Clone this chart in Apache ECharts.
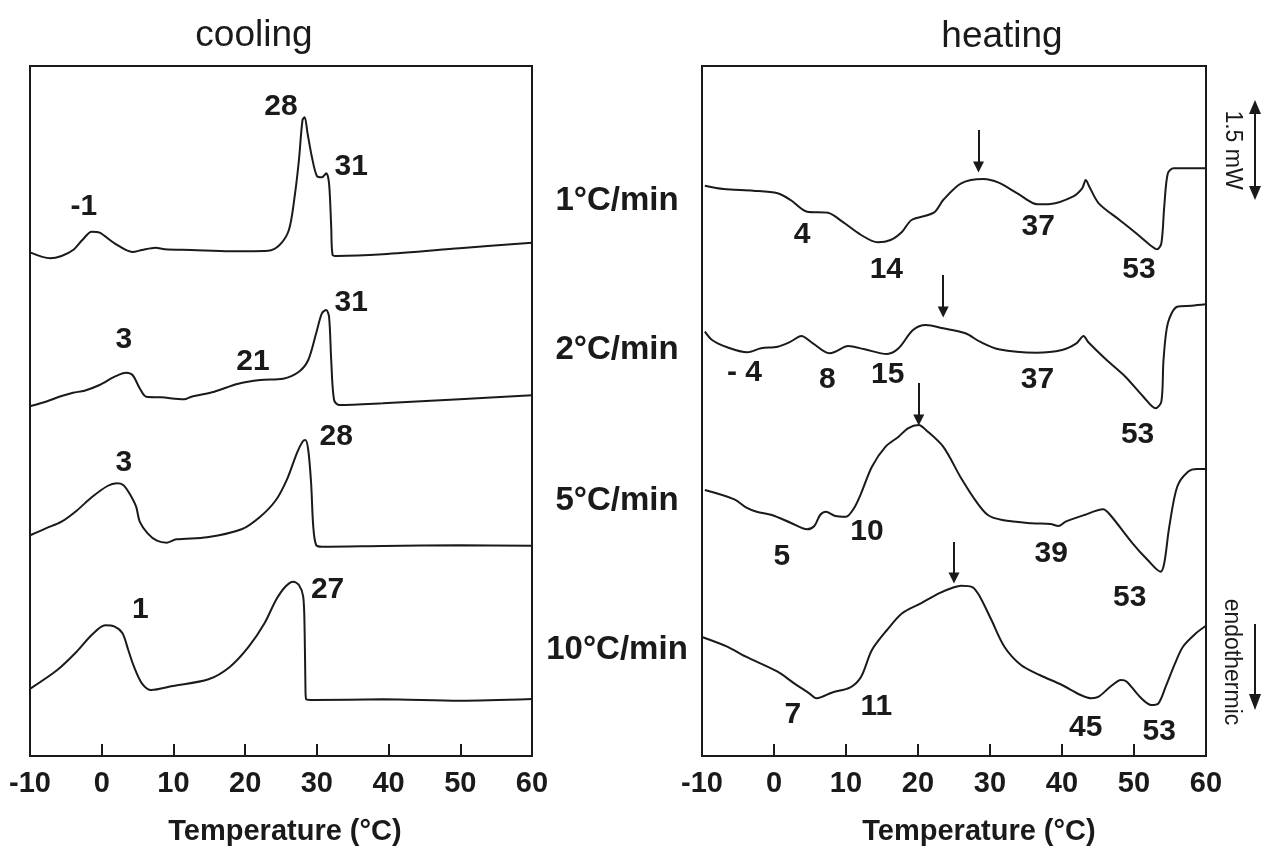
<!DOCTYPE html>
<html>
<head>
<meta charset="utf-8">
<title>DSC cooling / heating</title>
<script src="https://cdn.jsdelivr.net/npm/echarts@6/dist/echarts.min.js"></script>
<style>
    html, body { margin: 0; padding: 0; background: #fff; }
    #chart-main { width: 1262px; height: 848px; }
</style>
</head>
<body>
<div id="chart-main"></div>
<script>
    // heat flow traces, [temperature degC, offset signal]
    var cool1 = [[-9.9,503.3],[-7.2,497.7],[-5.6,500],[-4.0,506],[-2.7,516],[-1.4,524.3],[-0.3,523.3],[1.8,512.7],[4.3,504],[5.6,506],[7.5,508.3],[8.8,506.7],[12.5,506],[17.9,504.7],[23.2,505.3],[24.8,511],[26.1,526],[26.9,559.3],[27.5,596],[28.0,636],[28.3,638.7],[28.7,622.7],[29.3,599.3],[30.0,580],[30.7,578.7],[31.3,582.7],[31.7,572.7],[32.0,529.3],[32.2,501],[32.8,500],[39.2,501.7],[49.9,507.7],[60,513.3]];
    var cool2 = [[-9.9,350],[-7.8,354.3],[-5.6,360],[-4.0,363.3],[-2.4,365.3],[-0.3,371],[1.8,379.3],[3.4,383.3],[4.3,381],[5.3,367.7],[6.2,359.3],[8.3,358.7],[11.5,356.7],[12.5,359.3],[15.7,364.3],[18.9,372],[22.1,376],[25.3,377.3],[27.5,384.3],[28.8,396],[29.9,422.7],[30.7,442.7],[31.3,446],[31.7,439.3],[32.0,396],[32.4,356],[33.1,351],[39.2,352.7],[49.9,356.7],[60,360.7]];
    var cool5 = [[-9.9,221],[-7.8,227.7],[-5.6,234.3],[-3.5,245.3],[-1.4,258.7],[0.8,270],[2.1,272.7],[3.0,271],[4.0,261],[4.8,249.3],[5.3,234.3],[6.4,222.7],[7.7,215.3],[9.1,213.3],[10.4,216.7],[14.7,218.7],[19.5,226.7],[22.1,239.3],[24.3,256],[25.9,277.7],[27.2,302.7],[28.0,314.3],[28.4,316],[28.8,306],[29.2,272.7],[29.5,229.3],[29.9,211],[30.7,209.3],[39.2,210],[49.9,210.7],[60,210.3]];
    var cool10 = [[-9.9,67.7],[-6.2,86],[-3.5,104.3],[-1.4,121],[0.5,130.7],[1.8,129.3],[2.9,122.7],[3.7,106],[4.5,89.3],[5.6,72.7],[6.9,66],[9.9,70],[14.9,76.7],[17.9,89.3],[20.5,109.3],[22.7,132.7],[24.3,156],[25.6,169.3],[26.7,174.3],[27.5,171],[28.1,159.3],[28.3,122.7],[28.4,72.7],[28.5,56.7],[29.6,56],[39.2,56.7],[49.9,55.3],[60,57]];

    var heat1 = [[-9.6,570.3],[-7.0,567],[-2.9,565.3],[0.5,562.7],[2.3,556],[4.6,544.3],[7.5,543.3],[9.5,534.3],[12.1,521],[14.4,513.7],[16.2,516],[17.8,524.3],[19.1,536],[22.2,543.3],[23.5,556],[26.0,572.7],[29.1,577],[31.2,573.3],[33.8,562.7],[36.6,551.7],[38.4,552],[41.5,559.3],[42.8,567.7],[43.3,576],[43.8,569.3],[45.1,552.7],[48.0,536],[50.3,522.7],[52.4,510],[53.2,506.7],[53.8,512.7],[54.2,549.3],[54.7,582.7],[55.5,587.7],[58.0,587.7],[60,587.7]];
    var heat2 = [[-9.6,424.3],[-8.6,416],[-6.5,408.7],[-3.7,403.7],[-1.8,407.7],[0.5,409.3],[2.3,414.3],[3.8,420],[5.4,412.7],[7.7,402.7],[8.5,404.3],[10.3,410],[12.6,406.7],[15.7,402],[17.3,407.7],[19.3,426],[21.1,431],[23.5,427.7],[26.6,422.7],[28.6,414.3],[31.2,406.7],[36.4,403.3],[40.0,406],[42.0,412.7],[43.0,420],[43.6,414.3],[46.2,396],[48.8,379.3],[51.3,359.3],[53.0,347.7],[53.8,354.3],[54.1,396],[54.7,432.7],[56.0,449.3],[58.0,450.3],[60,451.7]];
    var heat5 = [[-9.6,266],[-5.5,256.7],[-3.9,248.7],[-2.4,244.3],[-0.3,241],[2.3,233.3],[4.6,226.7],[5.6,230],[6.4,241],[7.2,244.3],[8.5,240],[10.0,239.3],[11.1,247.7],[12.1,262.7],[13.6,289.3],[15.5,309.3],[17.3,319.3],[18.6,327.7],[20.1,331],[21.1,326],[23.5,309.3],[26.0,277.7],[28.1,254.3],[29.7,241],[31.7,236],[35.8,232.7],[38.4,232],[39.5,230],[40.5,234.3],[43.1,241],[45.7,246.7],[46.7,241],[49.8,212.7],[51.9,196],[53.7,184.3],[54.2,192.7],[54.9,229.3],[56.0,269.3],[57.5,284.3],[58.8,287],[60,287]];
    var heat10 = [[-9.9,118.7],[-6.5,109.3],[-3.9,99.3],[0.5,84.3],[2.8,72.7],[4.9,62.7],[5.9,57.7],[6.7,59.3],[8.0,63.3],[10.6,68.7],[12.1,79.3],[13.6,106],[15.7,126],[17.8,142.7],[20.4,152.7],[22.9,162.7],[25.0,168.7],[26.0,170.3],[27.6,168.7],[28.6,159.3],[30.2,136],[32.0,109.3],[34.3,91],[36.9,81],[40.0,71],[42.6,61],[44.1,57.7],[45.1,59.3],[46.7,69.3],[48.2,76],[49.0,74.3],[50.8,59.3],[52.4,51],[53.4,52.7],[54.4,69.3],[55.7,92.7],[56.8,109.3],[58.6,122.7],[60,130.3]];

    // peak temperatures written on the traces: [text, T, signal]
    var coolPeaks = [['-1',-2.5,549],['28',25.0,649],['31',34.8,589],['3',3.1,416],['21',21.1,394],['31',34.8,453],['3',3.1,293],['28',32.7,319],['1',5.4,146],['27',31.5,166]];
    var heatPeaks = [['4',3.9,521],['14',15.6,486],['37',36.7,529],['53',50.7,486],['- 4',-4.1,383],['8',7.4,376],['15',15.8,381],['37',36.6,376],['53',50.5,321],['10',12.9,224],['5',1.1,199],['39',38.5,202],['53',49.4,158],['7',2.6,41],['11',14.2,49],['45',43.3,28],['53',53.5,24]];

    // arrows over the heating exotherms
    var heatArrowT = [28.4, 23.5, 20.1, 25.0];
    var heatArrowTop = [626, 481, 373, 214];
    var heatArrowBottom = [589, 444, 336, 178];

    var rateLabels = ['1°C/min', '2°C/min', '5°C/min', '10°C/min'];
    var tempTicks = [-10, 0, 10, 20, 30, 40, 50, 60];

    var ink = '#1a1a1a';
    var font = '"Liberation Sans", Arial, sans-serif';

    function axisX(gridIndex) {
        return {
            type: 'value', gridIndex: gridIndex,
            min: tempTicks[0], max: tempTicks[tempTicks.length - 1], interval: 10,
            axisLine: {show: true, lineStyle: {color: ink, width: 2}},
            axisTick: {show: true, inside: true, length: 12, lineStyle: {color: ink, width: 2}},
            splitLine: {show: false},
            axisLabel: {color: ink, fontSize: 29, fontWeight: 'bold', fontFamily: font, margin: 13}
        };
    }

    function axisY(gridIndex) {
        return {type: 'value', gridIndex: gridIndex, min: 0, max: 690, show: false};
    }

    function trace(data, idx) {
        return {
            type: 'line', xAxisIndex: idx, yAxisIndex: idx, data: data,
            showSymbol: false, symbol: 'none', smooth: 0.3,
            silent: true, animation: false,
            lineStyle: {color: ink, width: 2}
        };
    }

    // peak numbers, placed through the axes as plain text
    function peakText(list, idx) {
        return {
            type: 'custom', xAxisIndex: idx, yAxisIndex: idx, silent: true, animation: false,
            data: list.map(function (p) { return [p[1], p[2], p[0]]; }),
            dimensions: ['t', 'v', 'txt'],
            encode: {x: 0, y: 1},
            renderItem: function (params, api) {
                var pt = api.coord([api.value(0), api.value(1)]);
                return {
                    type: 'text', x: pt[0], y: pt[1],
                    style: {text: list[params.dataIndex][0], fill: ink,
                        font: 'bold 30px ' + font, align: 'center', verticalAlign: 'middle'}
                };
            },
            z: 5
        };
    }

    var arrowData = heatArrowT.map(function (t, i) {
        return {coords: [[t, heatArrowTop[i]], [t, heatArrowBottom[i]]]};
    });

    function sideText(text, x, y, size, rot, weight) {
        return {
            type: 'text', x: x, y: y, rotation: rot || 0, silent: true,
            style: {text: text, fill: ink, font: (weight || 'normal') + ' ' + size + 'px ' + font,
                align: 'center', verticalAlign: 'middle'}
        };
    }

    var graphics = [
        sideText('cooling', 254, 36, 37),
        sideText('heating', 1002, 37, 37),
        sideText('Temperature (°C)', 285, 832, 29, 0, 'bold'),
        sideText('Temperature (°C)', 979, 832, 29, 0, 'bold'),
        sideText('1.5 mW', 1232, 150, 23, -Math.PI / 2),
        sideText('endothermic', 1231, 662, 23, -Math.PI / 2),
        {type: 'line', silent: true, shape: {x1: 1255, y1: 104, x2: 1255, y2: 196}, style: {stroke: ink, lineWidth: 2}},
        {type: 'polygon', silent: true, shape: {points: [[1249, 114], [1255, 100], [1261, 114]]}, style: {fill: ink}},
        {type: 'polygon', silent: true, shape: {points: [[1249, 186], [1255, 200], [1261, 186]]}, style: {fill: ink}},
        {type: 'line', silent: true, shape: {x1: 1255, y1: 624, x2: 1255, y2: 700}, style: {stroke: ink, lineWidth: 2}},
        {type: 'polygon', silent: true, shape: {points: [[1249, 694], [1255, 710], [1261, 694]]}, style: {fill: ink}}
    ];
    var rateY = [201, 350, 501, 650];
    rateLabels.forEach(function (r, i) {
        graphics.push(sideText(r, 617, rateY[i], 33, 0, 'bold'));
    });

    var option = {
        backgroundColor: '#fff',
        animation: false,
        grid: [
            {left: 30, top: 66, width: 502, height: 690, show: true, borderColor: ink, borderWidth: 2, containLabel: false},
            {left: 702, top: 66, width: 504, height: 690, show: true, borderColor: ink, borderWidth: 2, containLabel: false}
        ],
        xAxis: [axisX(0), axisX(1)],
        yAxis: [axisY(0), axisY(1)],
        series: [
            trace(cool1, 0), trace(cool2, 0), trace(cool5, 0), trace(cool10, 0),
            trace(heat1, 1), trace(heat2, 1), trace(heat5, 1), trace(heat10, 1),
            peakText(coolPeaks, 0), peakText(heatPeaks, 1),
            {
                type: 'lines', coordinateSystem: 'cartesian2d', xAxisIndex: 1, yAxisIndex: 1,
                silent: true, animation: false, data: arrowData,
                symbol: ['none', 'triangle'], symbolSize: 11,
                lineStyle: {color: ink, width: 2, opacity: 1}
            }
        ],
        graphic: graphics
    };

    var myChart = echarts.init(document.getElementById('chart-main'));
    myChart.setOption(option);
</script>
</body>
</html>
